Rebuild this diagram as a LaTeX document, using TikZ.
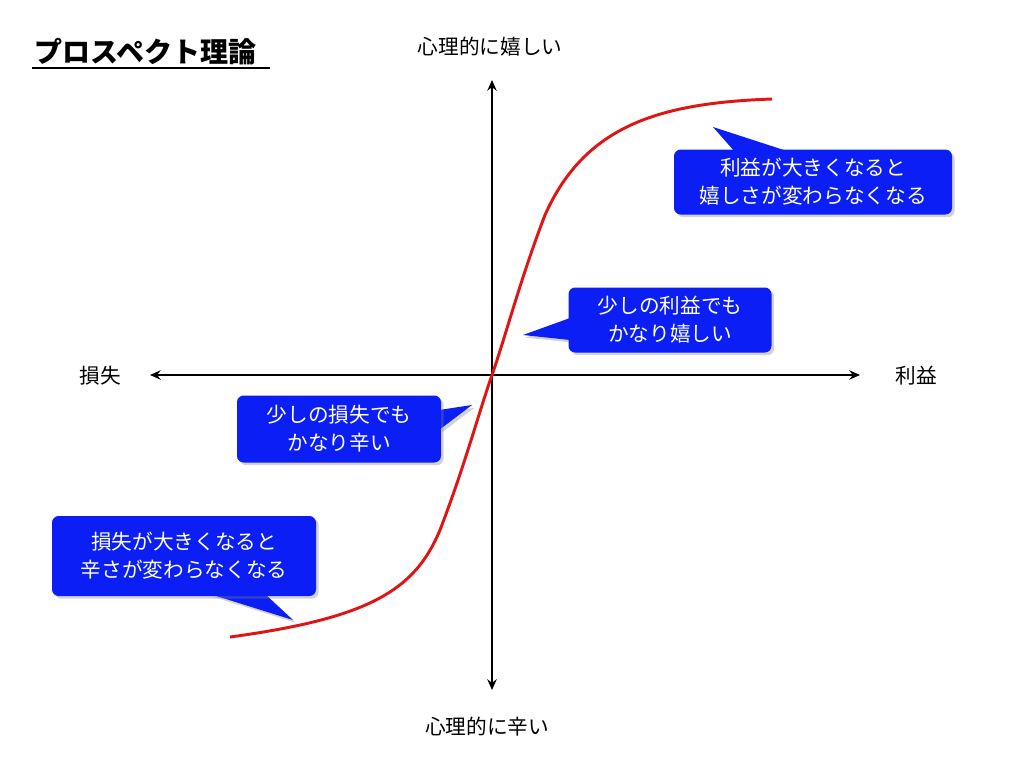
\documentclass[tikz,border=0pt]{standalone}
\usepackage{fontspec}
\setmainfont{Noto Sans CJK JP}
\usetikzlibrary{arrows.meta,shadows}
\definecolor{cb}{RGB}{10,30,245}
\definecolor{cr}{RGB}{225,20,20}
\tikzset{
 call/.style={fill=cb,rounded corners=5pt,text=white,align=center,font=\fontsize{15.5}{21}\selectfont,drop shadow={opacity=0.35,shadow xshift=2pt,shadow yshift=-2pt}},
 tail/.style={fill=cb,drop shadow={opacity=0.35,shadow xshift=2pt,shadow yshift=-2pt}},
 lbl/.style={font=\fontsize{15.5}{18}\selectfont},
 ax/.style={line width=1.5pt,{Stealth[length=8pt,width=7pt]}-{Stealth[length=8pt,width=7pt]}}
}
\begin{document}
\begin{tikzpicture}[x=0.75pt,y=-0.75pt]
\useasboundingbox (0,0) rectangle (1024,768);
\node[font=\fontsize{21}{24}\selectfont\bfseries,anchor=west] (title) at (30,52) {プロスペクト理論};
\draw[line width=1.5pt] (32,68) -- (270,68);
\coordinate (l) at (150,375); \coordinate (r) at (860,375);
\coordinate (t) at (492,80); \coordinate (b) at (492,690);
\draw[ax] (l) -- (r);
\draw[ax] (t) -- (b);
\node[lbl] (up) at (490,47) {心理的に嬉しい};
\node[lbl] (dn) at (487,727) {心理的に辛い};
\node[lbl] (ls) at (100,376) {損失};
\node[lbl] (gn) at (916,376) {利益};
\draw[cr,line width=2.2pt] (230,637) .. controls (370,618) and (415,590) .. (440,530) .. controls (465,465) and (478,415) .. (492,375) .. controls (506,335) and (520,280) .. (545,215) .. controls (585,125) and (660,103) .. (772,99);
% callouts
\coordinate (p1) at (713,127); \coordinate (p2) at (523,335);
\coordinate (p3) at (472,405); \coordinate (p4) at (293,620);
\fill[tail] (p1) -- (735,152) -- (790,152) -- cycle;
\node[call,minimum width=278pt*0.75,minimum height=65pt*0.75] (c1) at (813,182) {利益が大きくなると\\嬉しさが変わらなくなる};
\fill[tail] (p2) -- (570,318) -- (570,340) -- cycle;
\node[call,minimum width=203pt*0.75,minimum height=65pt*0.75] (c2) at (670,320) {少しの利益でも\\かなり嬉しい};
\fill[tail] (p3) -- (439,410) -- (439,430) -- cycle;
\node[call,minimum width=204pt*0.75,minimum height=67pt*0.75] (c3) at (339,429) {少しの損失でも\\かなり辛い};
\fill[tail] (p4) -- (210,594) -- (265,594) -- cycle;
\node[call,minimum width=264pt*0.75,minimum height=80pt*0.75] (c4) at (184,556) {損失が大きくなると\\辛さが変わらなくなる};
\end{tikzpicture}
\end{document}
